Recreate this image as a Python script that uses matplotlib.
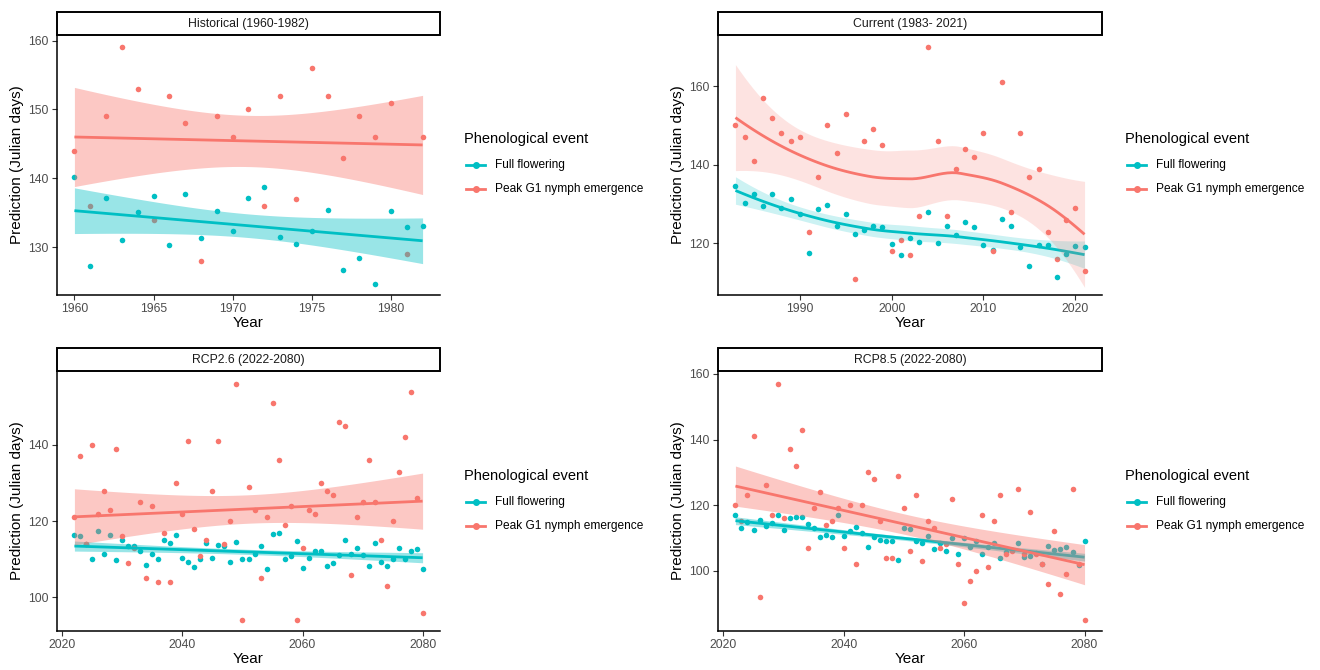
import numpy as np
import matplotlib
matplotlib.use("Agg")
import matplotlib.pyplot as plt
from matplotlib.lines import Line2D
from matplotlib.patches import Rectangle

plt.rcParams['font.family'] = ['Liberation Sans', 'DejaVu Sans']

# ---------------- data ----------------
hist_years = np.arange(1960, 1983)
hist_flower = [140.2, 127.3, 137.2, 131.1, 135.1, 137.5, 130.3, 137.7, 131.3, 135.3, 132.4, 137.1,
               138.8, 131.5, 130.5, 132.4, 135.4, 126.7, 128.5, 124.7, 135.3, 132.9, 133.1]
hist_nymph = [144, 136, 149, 159, 153, 134, 152, 148, 128, 149, 146, 150,
              136, 152, 137, 156, 152, 143, 149, 146, 151, 129, 146]

cur_years = np.arange(1983, 2022)
cur_flower = [134.5, 130.3, 132.5, 129.4, 132.6, 129.0, 131.2, 127.5, 117.5, 128.7, 129.8, 124.4,
              127.4, 122.4, 123.4, 124.4, 124.2, 119.9, 117.1, 121.4, 120.3, 128.0, 120.0, 124.5,
              122.1, 125.4, 124.2, 119.7, 118.4, 126.1, 124.5, 119.2, 114.2, 119.7, 119.7, 111.5,
              117.4, 119.4, 119.2]
cur_nymph = [150, 147, 141, 157, 152, 148, 146, 147, 123, 137, 150, 143,
             153, 111, 146, 149, 145, 118, 121, 117, 127, 170, 146, 127,
             139, 144, 142, 148, 118, 161, 128, 148, 137, 139, 123, 116,
             126, 129, 113]

fut_years = np.arange(2022, 2081)
rcp26_flower = [116.3, 116.0, 114.1, 110.1, 117.3, 111.4, 116.5, 109.9, 115.1, 113.4, 113.4, 112.1,
                108.6, 111.4, 110.2, 115.1, 114.3, 116.3, 110.4, 109.3, 108.0, 110.2, 114.3, 110.4,
                113.7, 113.4, 109.3, 114.6, 110.1, 110.1, 111.4, 113.4, 107.5, 116.6, 117.0, 110.2,
                111.0, 114.8, 107.8, 110.4, 112.2, 112.2, 108.3, 109.1, 111.1, 115.1, 111.4, 113.1,
                111.1, 108.3, 114.2, 109.4, 108.3, 110.2, 113.0, 110.2, 112.3, 112.6, 107.5]
rcp26_nymph = [121, 137, 114, 140, 122, 128, 123, 139, 116, 109, 113, 125,
               105, 124, 104, 117, 104, 130, 122, 141, 118, 111, 115, 128,
               141, 114, 120, 156, 94, 129, 123, 105, 121, 151, 136, 119,
               124, 94, 113, 123, 122, 130, 128, 127, 146, 145, 106, 121,
               125, 136, 125, 115, 103, 120, 133, 142, 154, 126, 96]
rcp85_flower = [116.9, 112.9, 114.7, 112.5, 115.4, 113.5, 114.4, 117.0, 112.3, 116.2, 116.3, 116.4,
                114.3, 112.9, 110.2, 111.0, 110.2, 117.0, 110.6, 112.1, 113.2, 111.6, 107.2, 110.4,
                109.3, 109.1, 109.1, 103.2, 113.0, 112.6, 109.2, 108.4, 110.5, 106.7, 108.3, 106.0,
                110.0, 105.1, 110.0, 107.3, 108.9, 105.2, 107.2, 108.4, 103.8, 105.8, 106.3, 108.5,
                104.1, 104.5, 105.3, 102.0, 107.4, 106.3, 106.5, 107.2, 105.6, 101.7, 109.2]
rcp85_nymph = [120, 115, 123, 141, 92, 126, 117, 157, 116, 137, 132, 143,
               107, 119, 124, 114, 115, 119, 107, 120, 102, 120, 130, 128,
               115, 104, 104, 129, 119, 106, 123, 103, 115, 113, 107, 108,
               122, 102, 90, 97, 100, 117, 101, 115, 123, 105, 106, 125,
               105, 118, 105, 102, 96, 112, 93, 99, 125, 102, 85]

series_labels = ["Full flowering", "Peak G1 nymph emergence"]
colors = ["#00BFC4", "#F8766D"]

# ---------------- stats helpers ----------------
def tq(df, z=1.959963985):
    g1 = (z**3 + z) / 4
    g2 = (5*z**5 + 16*z**3 + 3*z) / 96
    g3 = (3*z**7 + 19*z**5 + 17*z**3 - 15*z) / 384
    return z + g1/df + g2/df**2 + g3/df**3

def lm_fit(x, y, xg):
    x = np.asarray(x, float); y = np.asarray(y, float)
    n = len(x)
    b, a = np.polyfit(x, y, 1)
    res = y - (a + b*x)
    s = np.sqrt(np.sum(res**2) / (n - 2))
    sxx = np.sum((x - x.mean())**2)
    fit = a + b*xg
    se = s * np.sqrt(1/n + (xg - x.mean())**2 / sxx)
    t = tq(n - 2)
    return fit, fit - t*se, fit + t*se

def loess_fit(x, y, xg, span=1.0, cell=0.2):
    """Local quadratic regression (tricube), kd-vertex + cubic Hermite interpolation."""
    x = np.asarray(x, float); y = np.asarray(y, float)
    n = len(x)
    q = int(np.floor(n*min(span, 1.0)))

    def local_rows(x0):
        d = np.abs(x - x0)
        h = np.sort(d)[q-1] * (span if span > 1 else 1.0)
        u = np.clip(d/h, 0, 1)
        w = (1 - u**3)**3
        X = np.column_stack([np.ones(n), x - x0, (x - x0)**2])
        A = X.T * w
        B = np.linalg.solve(A @ X, A)
        return B[0], B[1]

    fc = int(np.floor(n*span*cell))
    rng = x.max() - x.min()
    lo, hi = x.min() - 0.005*rng, x.max() + 0.005*rng
    verts = {lo, hi}
    def split(pts):
        if len(pts) <= fc:
            return
        m = float(np.median(pts))
        verts.add(m)
        split(pts[pts <= m]); split(pts[pts > m])
    split(np.sort(x))
    verts = np.array(sorted(verts))
    V0, V1 = zip(*[local_rows(v) for v in verts])
    V0 = np.array(V0); V1 = np.array(V1)

    def interp_rows(xq):
        out = []
        for v in xq:
            k = min(max(np.searchsorted(verts, v) - 1, 0), len(verts) - 2)
            a, b = verts[k], verts[k+1]
            hh = b - a; t = (v - a) / hh
            h00 = 2*t**3 - 3*t**2 + 1; h10 = t**3 - 2*t**2 + t
            h01 = -2*t**3 + 3*t**2;    h11 = t**3 - t**2
            out.append(h00*V0[k] + h10*hh*V1[k] + h01*V0[k+1] + h11*hh*V1[k+1])
        return np.array(out)

    L = interp_rows(x)
    Lg = interp_rows(xg)
    fit = Lg @ y
    res = y - L @ y
    M = (np.eye(n) - L).T @ (np.eye(n) - L)
    d1 = np.trace(M); d2 = np.trace(M @ M)
    s = np.sqrt(np.sum(res**2) / d1)
    se = s * np.sqrt(np.sum(Lg**2, axis=1))
    t = tq(d1**2 / d2)
    return fit, fit - t*se, fit + t*se

# ---------------- layout ----------------
W, H = 1320, 670
fig = plt.figure(figsize=(W/100, H/100), dpi=100)

def fx(px): return px / W
def fy(py): return 1 - py / H

panels = [
    dict(title="Historical (1960-1982)", x=hist_years, ff=hist_flower, pk=hist_nymph,
         box=(57, 440, 35, 295), xlim=(1958.9, 1983.1), ylim=(123.1, 160.8),
         xticks=[1960, 1965, 1970, 1975, 1980], yticks=[130, 140, 150, 160],
         method="lm", alpha=0.4, leg=(464, 139)),
    dict(title="Current (1983- 2021)", x=cur_years, ff=cur_flower, pk=cur_nymph,
         box=(718, 1102, 35, 295), xlim=(1981.1, 2022.9), ylim=(106.9, 173.0),
         xticks=[1990, 2000, 2010, 2020], yticks=[120, 140, 160],
         method="loess", alpha=0.2, leg=(1125, 139)),
    dict(title="RCP2.6 (2022-2080)", x=fut_years, ff=rcp26_flower, pk=rcp26_nymph,
         box=(57, 440, 371, 631), xlim=(2019.1, 2082.9), ylim=(91.2, 159.4),
         xticks=[2020, 2040, 2060, 2080], yticks=[100, 120, 140],
         method="lm", alpha=0.4, leg=(464, 476)),
    dict(title="RCP8.5 (2022-2080)", x=fut_years, ff=rcp85_flower, pk=rcp85_nymph,
         box=(718, 1102, 371, 631), xlim=(2019.1, 2082.9), ylim=(81.6, 160.9),
         xticks=[2020, 2040, 2060, 2080], yticks=[100, 120, 140, 160],
         method="lm", alpha=0.4, leg=(1125, 476)),
]

tick_col = "#4D4D4D"
for p in panels:
    x0, x1, y0, y1 = p["box"]
    ax = fig.add_axes([fx(x0), fy(y1), (x1 - x0)/W, (y1 - y0)/H])
    ax.set_xlim(*p["xlim"]); ax.set_ylim(*p["ylim"])
    for sp in ["top", "right"]:
        ax.spines[sp].set_visible(False)
    for sp in ["left", "bottom"]:
        ax.spines[sp].set_linewidth(1.1)
        ax.spines[sp].set_color("black")
    ax.set_xticks(p["xticks"]); ax.set_yticks(p["yticks"])
    ax.tick_params(length=3.5, width=0.8, color="#333333", labelsize=8.8,
                   labelcolor=tick_col, pad=2.5)
    ax.set_xlabel("Year", fontsize=11, labelpad=0.5)
    ax.set_ylabel("Prediction (Julian days)", fontsize=11, labelpad=3)

    xs = np.asarray(p["x"], float)
    ax.scatter(xs, p["ff"], s=16, color=colors[0], linewidths=0, zorder=2)
    ax.scatter(xs, p["pk"], s=16, color=colors[1], linewidths=0, zorder=2)
    xg = np.linspace(xs.min(), xs.max(), 80)
    z = 3
    for ys, c in [(p["ff"], colors[0]), (p["pk"], colors[1])]:
        if p["method"] == "lm":
            fit, lo, hi = lm_fit(xs, ys, xg)
        else:
            fit, lo, hi = loess_fit(xs, ys, xg, span=1.0)
        ax.fill_between(xg, lo, hi, color=c, alpha=p["alpha"], linewidth=0, zorder=z)
        ax.plot(xg, fit, color=c, linewidth=2.0, zorder=z + 0.5, solid_capstyle="butt")
        z += 1

    fig.add_artist(Rectangle((fx(x0), fy(y0)), (x1 - x0)/W, 23/H,
                             transform=fig.transFigure, facecolor="white",
                             edgecolor="black", linewidth=1.4))
    fig.text(fx((x0 + x1)/2), fy(y0 - 11.5), p["title"], ha="center", va="center",
             fontsize=8.8, color="#1A1A1A")

    lx, ly = p["leg"]
    fig.text(fx(lx), fy(ly), "Phenological event", ha="left", va="center", fontsize=10.5)
    for i, (lab, c) in enumerate(zip(series_labels, colors)):
        yy = ly + 26 + i*24
        fig.add_artist(Line2D([fx(lx + 2), fx(lx + 21)], [fy(yy), fy(yy)], color=c,
                              linewidth=2.0, transform=fig.transFigure))
        fig.add_artist(Line2D([fx(lx + 11.5)], [fy(yy)], color=c, marker="o",
                              markersize=4, linewidth=0, transform=fig.transFigure))
        fig.text(fx(lx + 31), fy(yy), lab, ha="left", va="center", fontsize=8.6)

fig.savefig("out.png", dpi=100)
